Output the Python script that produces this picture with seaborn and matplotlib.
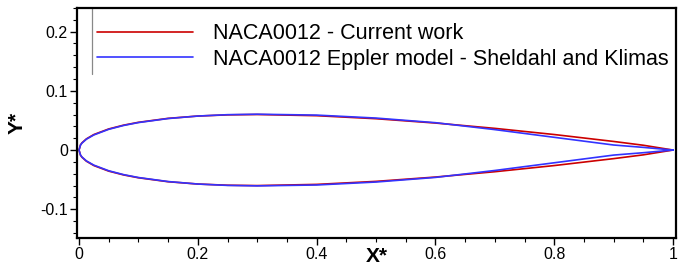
import numpy as np
import pandas as pd
import matplotlib
matplotlib.use("Agg")
import matplotlib.pyplot as plt
import seaborn as sns
from matplotlib.ticker import MultipleLocator, FuncFormatter
from matplotlib.lines import Line2D

# ---- data ----
x_stations = [0.0, 0.0025, 0.005, 0.0125, 0.025, 0.05, 0.075, 0.1, 0.15, 0.2,
              0.25, 0.3, 0.4, 0.5, 0.6, 0.7, 0.8, 0.9, 0.95, 1.0]
current_upper = [0.0, 0.0087, 0.0122, 0.0189, 0.0262, 0.0356, 0.0420, 0.0468,
                 0.0535, 0.0574, 0.0594, 0.0600, 0.0580, 0.0529, 0.0456, 0.0366,
                 0.0262, 0.0145, 0.0081, 0.0]
eppler_upper = [0.0, 0.0084, 0.0118, 0.0184, 0.0255, 0.0350, 0.0415, 0.0464,
                0.0532, 0.0574, 0.0597, 0.0605, 0.0590, 0.0540, 0.0462, 0.0345,
                0.0215, 0.0085, 0.0045, 0.0]
series_names = ["NACA0012 - Current work",
                "NACA0012 Eppler model - Sheldahl and Klimas"]
x_ticks = [0, 0.2, 0.4, 0.6, 0.8, 1]
y_ticks = [-0.1, 0, 0.1, 0.2]


def closed_contour(xs, ys):
    # upper surface TE -> LE, then lower surface LE -> TE
    xu = list(reversed(xs))
    yu = list(reversed(ys))
    xl = xs[1:]
    yl = [-v for v in ys[1:]]
    return xu + xl, yu + yl


frames = []
for name, ys in zip(series_names, [current_upper, eppler_upper]):
    cx, cy = closed_contour(x_stations, ys)
    frames.append(pd.DataFrame({"x": cx, "y": cy, "series": name}))
df = pd.concat(frames, ignore_index=True)

# ---- style ----
sns.set_theme(style="white")
plt.rcParams["font.family"] = ["Liberation Sans", "DejaVu Sans"]
plt.rcParams["axes.unicode_minus"] = False
plt.rcParams["text.color"] = "black"
plt.rcParams["axes.labelcolor"] = "black"

fig = plt.figure(figsize=(6.98, 2.71), dpi=100)
ax = fig.add_axes([0.1103, 0.1207, 0.8582, 0.851])

palette = {series_names[0]: "#cc0000", series_names[1]: "#3333ff"}
sns.lineplot(data=df, x="x", y="y", hue="series", units="series",
             estimator=None, sort=False, palette=palette, linewidth=1.2,
             ax=ax, legend=False)

ax.set_xlim(-0.0034, 1.005)
ax.set_ylim(-0.149, 0.2404)

ax.xaxis.set_minor_locator(MultipleLocator(0.05))
ax.yaxis.set_minor_locator(MultipleLocator(0.02))
ax.set_xticks(x_ticks)
ax.set_yticks(y_ticks)
fmt = FuncFormatter(lambda v, p: ("%g" % round(v, 4)))
ax.xaxis.set_major_formatter(fmt)
ax.yaxis.set_major_formatter(fmt)

ax.tick_params(axis="both", which="major", direction="out", length=5,
               width=1.0, color="black", labelsize=11.5, labelcolor="black",
               pad=1.5)
ax.tick_params(axis="both", which="minor", direction="out", length=3,
               width=0.8, color="black")
ax.tick_params(axis="x", which="both", bottom=True, top=False)
ax.tick_params(axis="y", which="both", left=True, right=False)

for s in ax.spines.values():
    s.set_visible(True)
    s.set_color("black")
    s.set_linewidth(1.6)

ax.set_xlabel("X*", fontsize=15, fontweight="bold", va="center", ha="center",
              color="black")
ax.set_ylabel("Y*", fontsize=15, fontweight="bold", va="center", ha="center",
              color="black")
ax.xaxis.set_label_coords(0.5, -0.08)
ax.yaxis.set_label_coords(-0.1, 0.5)

# legend
handles = [Line2D([], [], color=palette[n], linewidth=1.2) for n in series_names]
leg = ax.legend(handles, series_names, loc="center left",
                bbox_to_anchor=(0.033, 0.832), frameon=False,
                fontsize=15.5, handlelength=4.45, handletextpad=0.95,
                labelspacing=0.2, borderpad=0, borderaxespad=0,
                labelcolor="black")
ax.plot([0.025, 0.025], [0.997, 0.711], transform=ax.transAxes,
        color="#888888", linewidth=0.9, clip_on=False)

fig.savefig("out.png", dpi=100)
